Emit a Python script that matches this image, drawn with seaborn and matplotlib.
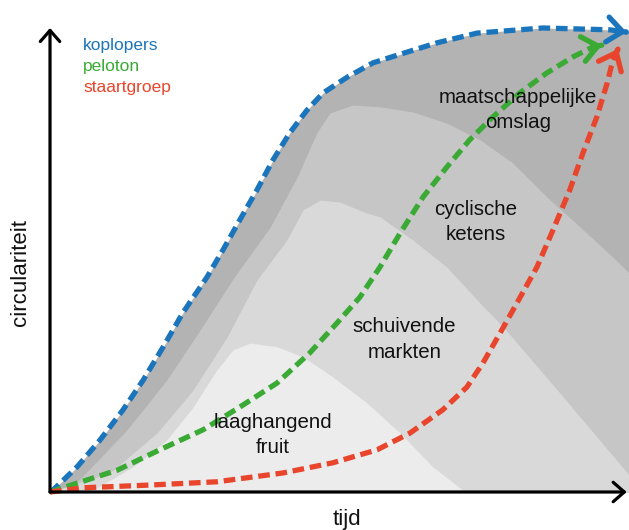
import numpy as np
import pandas as pd
import matplotlib
matplotlib.use("Agg")
import matplotlib.pyplot as plt
import seaborn as sns

# curves (tijd, circulariteit), arbitrary 0-100 units
koplopers_x = [0, 0.5, 4.7, 8.7, 12.7, 16.2, 19.7, 23.1, 27.3, 30.1, 33.0, 36.0, 38.8, 41.7, 44.7,
               47.5, 51.7, 56.2, 62.1, 67.3, 74.3, 85.7, 97.4, 100.3]
koplopers_y = [0, 0.4, 5.4, 11.2, 17.7, 24.1, 31.3, 38.6, 46.3, 52.2, 58.6, 65.1, 71.6, 77.4, 82.3,
               86.0, 89.4, 92.5, 94.8, 96.8, 98.9, 100.0, 99.6, 99.1]

peloton_x = [0, 4.7, 11.7, 19.1, 26.6, 33.0, 39.5, 45.2, 49.9, 53.9, 57.4, 60.9, 64.9, 69.0, 73.0,
             77.0, 81.7, 86.4, 91.0, 94.4, 96.0]
peloton_y = [0, 1.9, 4.7, 9.1, 13.4, 18.3, 23.5, 30.0, 36.4, 42.0, 48.5, 55.8, 63.6, 70.0, 75.9,
             80.8, 86.0, 90.3, 93.8, 95.9, 96.3]

staart_x = [0, 5.7, 17.4, 29.0, 40.5, 49.2, 56.9, 62.6, 68.3, 72.5, 75.3, 78.3, 81.2, 84.7, 87.5,
            90.4, 92.7, 95.1, 96.9, 97.9, 98.8]
staart_y = [0, 0.9, 1.5, 2.2, 4.1, 6.3, 9.1, 12.7, 17.7, 22.6, 27.8, 34.3, 40.7, 48.5, 56.5,
            65.1, 73.1, 80.8, 88.1, 93.1, 95.5]

# grey phases (upper boundaries)
cyclisch_x = [0, 3.5, 5.7, 13.4, 20.3, 26.1, 31.7, 38.3, 43.0, 46.4, 48.7, 52.7, 57.4, 63.1, 69.0,
              74.8, 80.5, 86.4, 92.2, 97.9, 100.7]
cyclisch_y = [0, 0.9, 3.4, 13.4, 24.1, 34.9, 45.7, 57.1, 67.9, 77.4, 81.7, 83.4, 83.0, 81.9, 79.5,
              75.9, 70.9, 63.6, 57.1, 50.6, 47.2]

schuivend_x = [0, 10.4, 18.6, 24.9, 30.8, 36.0, 41.2, 44.0, 47.0, 50.4, 55.1, 57.4, 63.1, 69.0,
               74.8, 78.8, 88.7, 100.7]
schuivend_y = [0, 4.1, 12.7, 22.0, 33.4, 45.7, 54.3, 60.8, 62.9, 62.5, 60.1, 59.3, 54.3, 48.5,
               40.7, 35.6, 21.3, 3.7]

laag_x = [0, 7.5, 14.4, 20.3, 24.9, 29.0, 31.8, 34.8, 39.5, 44.0, 49.2, 55.1, 60.9, 66.6, 71.8, 73.9]
laag_y = [0, 0.4, 5.4, 11.2, 18.3, 26.3, 30.6, 32.1, 31.3, 29.1, 24.8, 19.2, 12.7, 5.4, 0.4, 0]

series_names = ["koplopers", "peloton", "staartgroep"]
series_colors = ["#1b75bc", "#3aaa35", "#e8452c"]

phase_labels = ["maatschappelijke\nomslag", "cyclische\nketens", "schuivende\nmarkten", "laaghangend\nfruit"]
phase_pos = [(81.4, 82.3), (74.1, 58.2), (61.6, 32.8), (38.8, 12.3)]

sns.set_theme(style="white")
plt.rcParams["font.family"] = ["Liberation Sans", "DejaVu Sans"]

fig = plt.figure(figsize=(6.29, 5.30), dpi=100)
ax = fig.add_axes([0, 0, 1, 1])

# grey areas
ax.fill_between(np.r_[koplopers_x, 101], np.r_[koplopers_y, koplopers_y[-1]], color="#b3b3b3", lw=0, zorder=1)
ax.fill_between(cyclisch_x, cyclisch_y, color="#c6c6c6", lw=0, zorder=2)
ax.fill_between(schuivend_x, schuivend_y, color="#d9d9d9", lw=0, zorder=3)
ax.fill_between(laag_x, laag_y, color="#ececec", lw=0, zorder=4)

curves = [(koplopers_x, koplopers_y), (peloton_x, peloton_y), (staart_x, staart_y)]
for (cx, cy), name, col in zip(curves, series_names, series_colors):
    df = pd.DataFrame({"tijd": cx, "circulariteit": cy})
    sns.lineplot(data=df, x="tijd", y="circulariteit", sort=False, ax=ax, color=col,
                 lw=3.8, ls=(0, (2.2, 1.1)), zorder=6)
    tip = np.array([cx[-1], cy[-1]])
    prev = np.array([cx[-2], cy[-2]])
    ax.annotate("", xy=tip, xytext=tip - 0.02 * (tip - prev),
                arrowprops=dict(arrowstyle="->,head_length=0.55,head_width=0.45", color=col,
                                lw=3.8, shrinkA=0, shrinkB=0, mutation_scale=20), zorder=7)

ax.set_xlim(-8.70, 100.70)
ax.set_ylim(-8.19, 106.03)
ax.axis("off")

# axes arrows
ax.annotate("", xy=(0, 100), xytext=(0, 0),
            arrowprops=dict(arrowstyle="->,head_length=0.4,head_width=0.35", color="black",
                            lw=2.3, shrinkA=0, shrinkB=0, mutation_scale=20), zorder=8)
ax.annotate("", xy=(100.3, 0), xytext=(0, 0),
            arrowprops=dict(arrowstyle="->,head_length=0.4,head_width=0.35", color="black",
                            lw=2.3, shrinkA=0, shrinkB=0, mutation_scale=20), zorder=8)

for i, (name, col) in enumerate(zip(series_names, series_colors)):
    ax.text(5.74, 96.3 - 4.6 * i, name, color=col, fontsize=12.5, ha="left", va="center", zorder=9)

for lab, (px, py) in zip(phase_labels, phase_pos):
    ax.text(px, py, lab, fontsize=14.8, ha="center", va="center", multialignment="center",
            linespacing=1.45, color="#111111", zorder=9)

ax.text(-5.2, 47.4, "circulariteit", rotation=90, fontsize=16, ha="center", va="center", color="#111111")
ax.text(51.7, -6.0, "tijd", fontsize=16, ha="center", va="center", color="#111111")

fig.savefig("out.png", dpi=100)
